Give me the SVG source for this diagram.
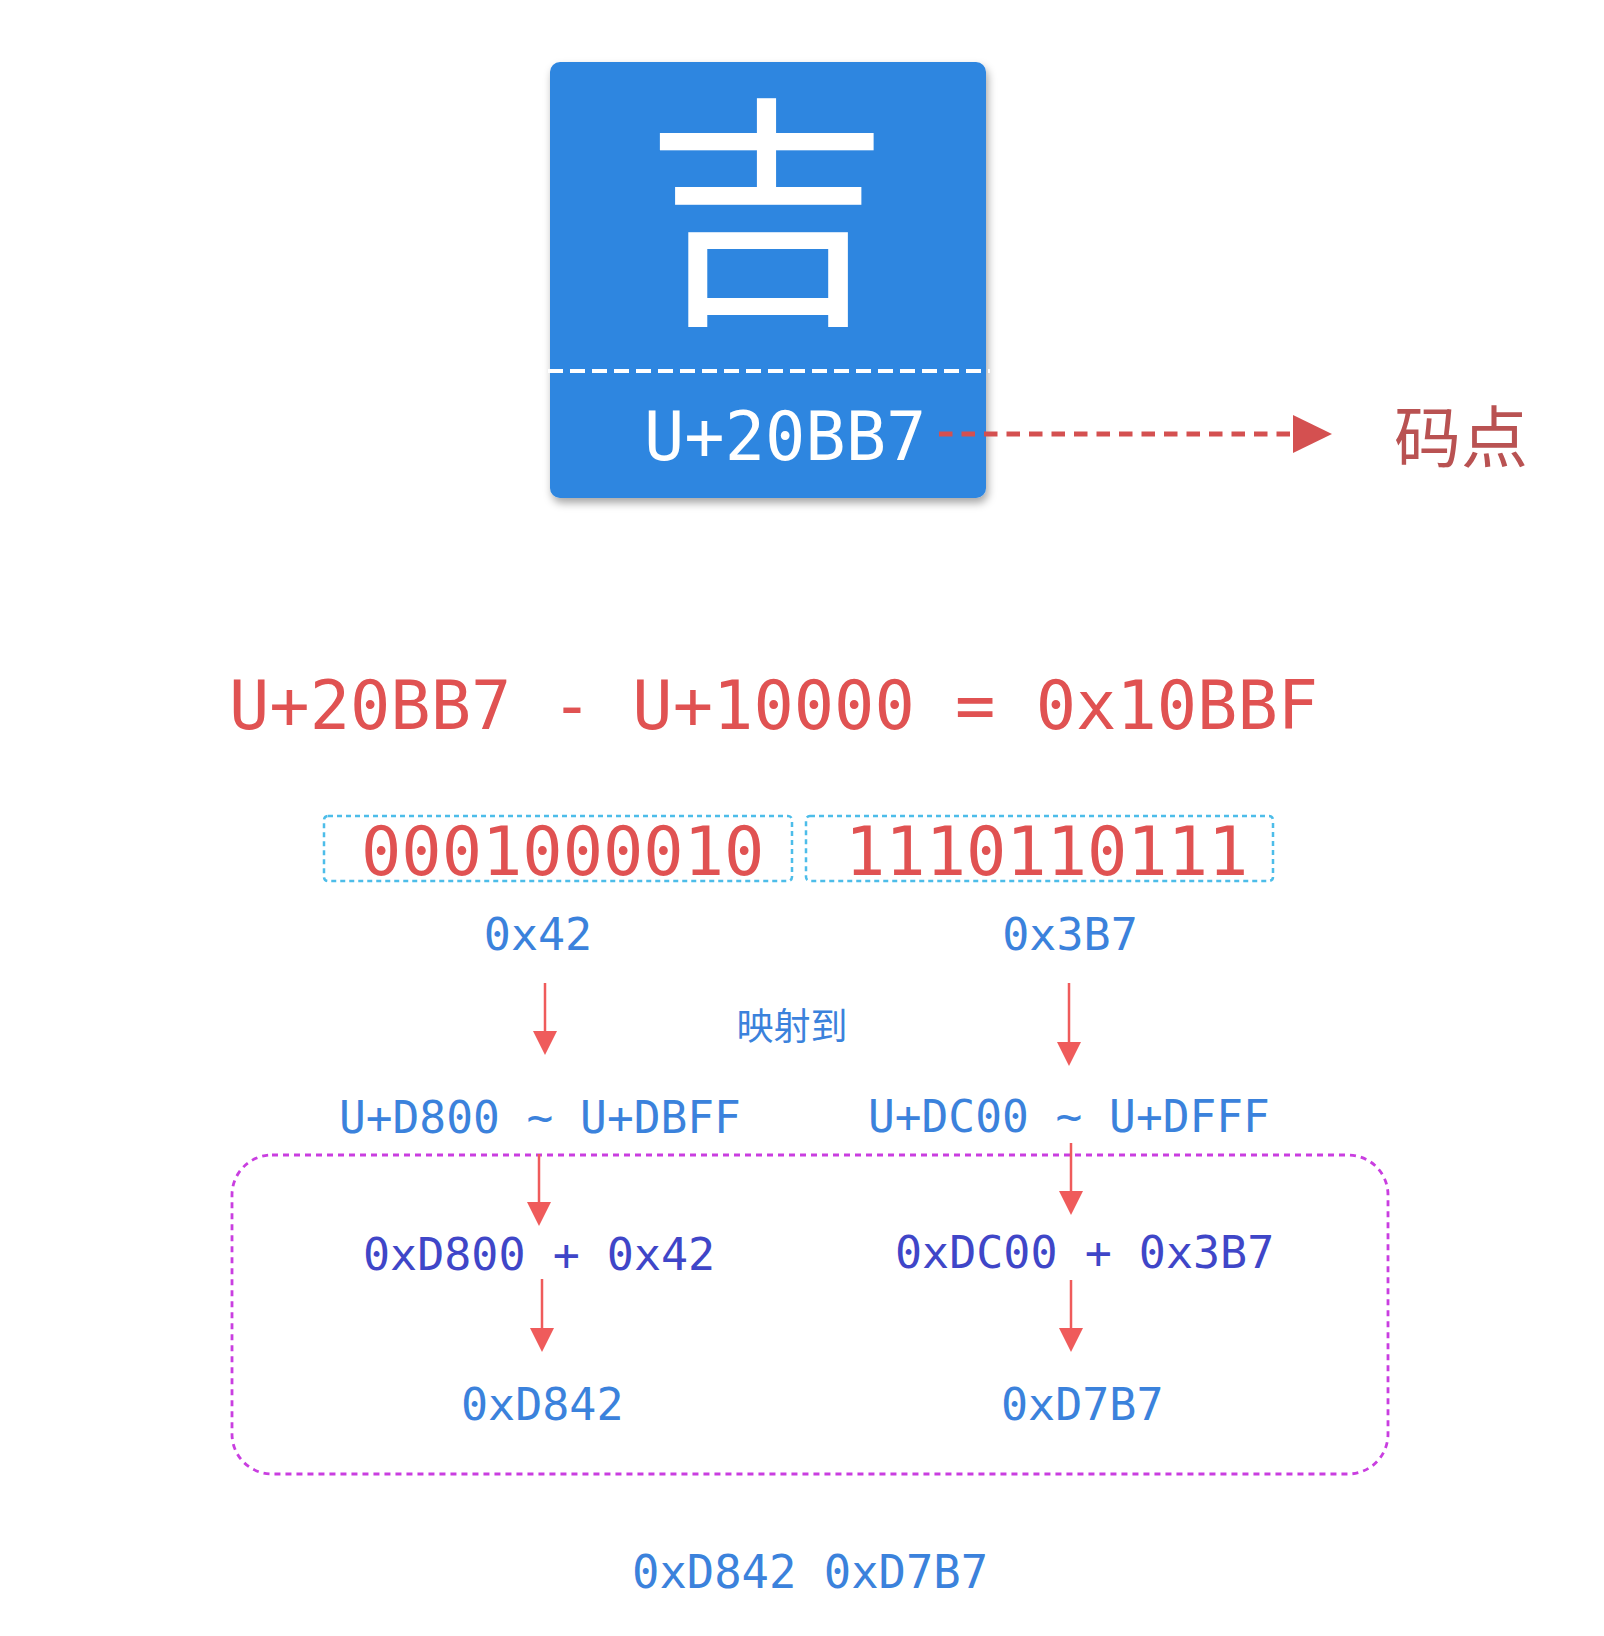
<svg xmlns="http://www.w3.org/2000/svg" width="1604" height="1636" viewBox="0 0 1604 1636">
<style>
.mono{font-family:"DejaVu Sans Mono","Liberation Mono",monospace;}
.cjk{font-family:"Noto Sans CJK SC","Noto Sans",sans-serif;}
.red{fill:#e05252;}
.blue{fill:#3b82dc;}
.indigo{fill:#3f46c8;}
.arr{stroke:#ef5b5b;stroke-width:2.5;fill:none;}
.bin{fill:none;stroke:#4dbde9;stroke-width:2.5;stroke-dasharray:5 4;}
</style>
<defs>
<filter id="sh" x="-10%" y="-10%" width="125%" height="125%">
<feDropShadow dx="2" dy="5" stdDeviation="4" flood-color="#000" flood-opacity="0.35"/>
</filter>
<marker id="ah" viewBox="0 0 24 24" refX="0" refY="12" markerWidth="24" markerHeight="24" markerUnits="userSpaceOnUse" orient="auto">
<path d="M0,0 L24,12 L0,24 z" fill="#ef5b5b"/>
</marker>
<marker id="ahTop" viewBox="0 0 39 38" refX="0" refY="19" markerWidth="39" markerHeight="38" markerUnits="userSpaceOnUse" orient="auto">
<path d="M0,0 L39,19 L0,38 z" fill="#d45050"/>
</marker>
</defs>
<rect width="1604" height="1636" fill="#ffffff"/>

<g id="char-card">
<rect x="550" y="62" width="436" height="436" rx="10" fill="#2e86e0" filter="url(#sh)"/>
<text x="767" y="305" text-anchor="middle" class="cjk" font-size="245" fill="#ffffff">吉</text>
<line x1="548" y1="371" x2="990" y2="371" stroke="#ffffff" stroke-width="4" stroke-dasharray="15 7"/>
<text x="644" y="460" class="mono" font-size="67" fill="#ffffff">U+20BB7</text>
</g>

<g id="label-codepoint">
<text x="1461" y="462" text-anchor="middle" class="cjk" font-size="67" fill="#b95252">码点</text>
</g>

<g id="formula">
<text x="229" y="729" class="mono red" font-size="67">U+20BB7 - U+10000 = 0x10BBF</text>
</g>

<g id="bin-high">
<rect x="324" y="816" width="468" height="65" rx="4" class="bin"/>
<text x="361" y="875" class="mono red" font-size="67">0001000010</text>
</g>
<g id="bin-low">
<rect x="806" y="816" width="467" height="65" rx="4" class="bin"/>
<text x="845" y="875" class="mono red" font-size="67">1110110111</text>
</g>

<g id="hex-high"><text x="538" y="950" text-anchor="middle" class="mono blue" font-size="45">0x42</text></g>
<g id="hex-low"><text x="1070" y="950" text-anchor="middle" class="mono blue" font-size="45">0x3B7</text></g>

<g id="label-map"><text x="792" y="1040" text-anchor="middle" class="cjk" font-size="37" fill="#3b82dc">映射到</text></g>

<g id="range-high"><text x="339" y="1133" class="mono blue" font-size="44.5">U+D800 ~ U+DBFF</text></g>
<g id="range-low"><text x="868" y="1132" class="mono blue" font-size="44.5">U+DC00 ~ U+DFFF</text></g>

<g id="group-box">
<rect x="232" y="1155" width="1156" height="319" rx="40" fill="none" stroke="#c93ee0" stroke-width="2.8" stroke-dasharray="6 5"/>
</g>

<g id="sum-high"><text x="363" y="1270" class="mono indigo" font-size="45">0xD800 + 0x42</text></g>
<g id="sum-low"><text x="895" y="1268" class="mono indigo" font-size="45">0xDC00 + 0x3B7</text></g>

<g id="res-high"><text x="461" y="1420" class="mono blue" font-size="45">0xD842</text></g>
<g id="res-low"><text x="1001" y="1420" class="mono blue" font-size="45">0xD7B7</text></g>

<g id="final"><text x="632" y="1588" class="mono blue" font-size="45.5">0xD842 0xD7B7</text></g>

<g id="connectors">
<line x1="939" y1="434" x2="1293" y2="434" stroke="#d45050" stroke-width="5" stroke-dasharray="13.5 9" marker-end="url(#ahTop)"/>
<line x1="545" y1="983" x2="545" y2="1031" class="arr" marker-end="url(#ah)"/>
<line x1="1069" y1="983" x2="1069" y2="1042" class="arr" marker-end="url(#ah)"/>
<line x1="539" y1="1154" x2="539" y2="1202" class="arr" marker-end="url(#ah)"/>
<line x1="542" y1="1279" x2="542" y2="1328" class="arr" marker-end="url(#ah)"/>
<line x1="1071" y1="1143" x2="1071" y2="1191" class="arr" marker-end="url(#ah)"/>
<line x1="1071" y1="1280" x2="1071" y2="1328" class="arr" marker-end="url(#ah)"/>
</g>
</svg>
